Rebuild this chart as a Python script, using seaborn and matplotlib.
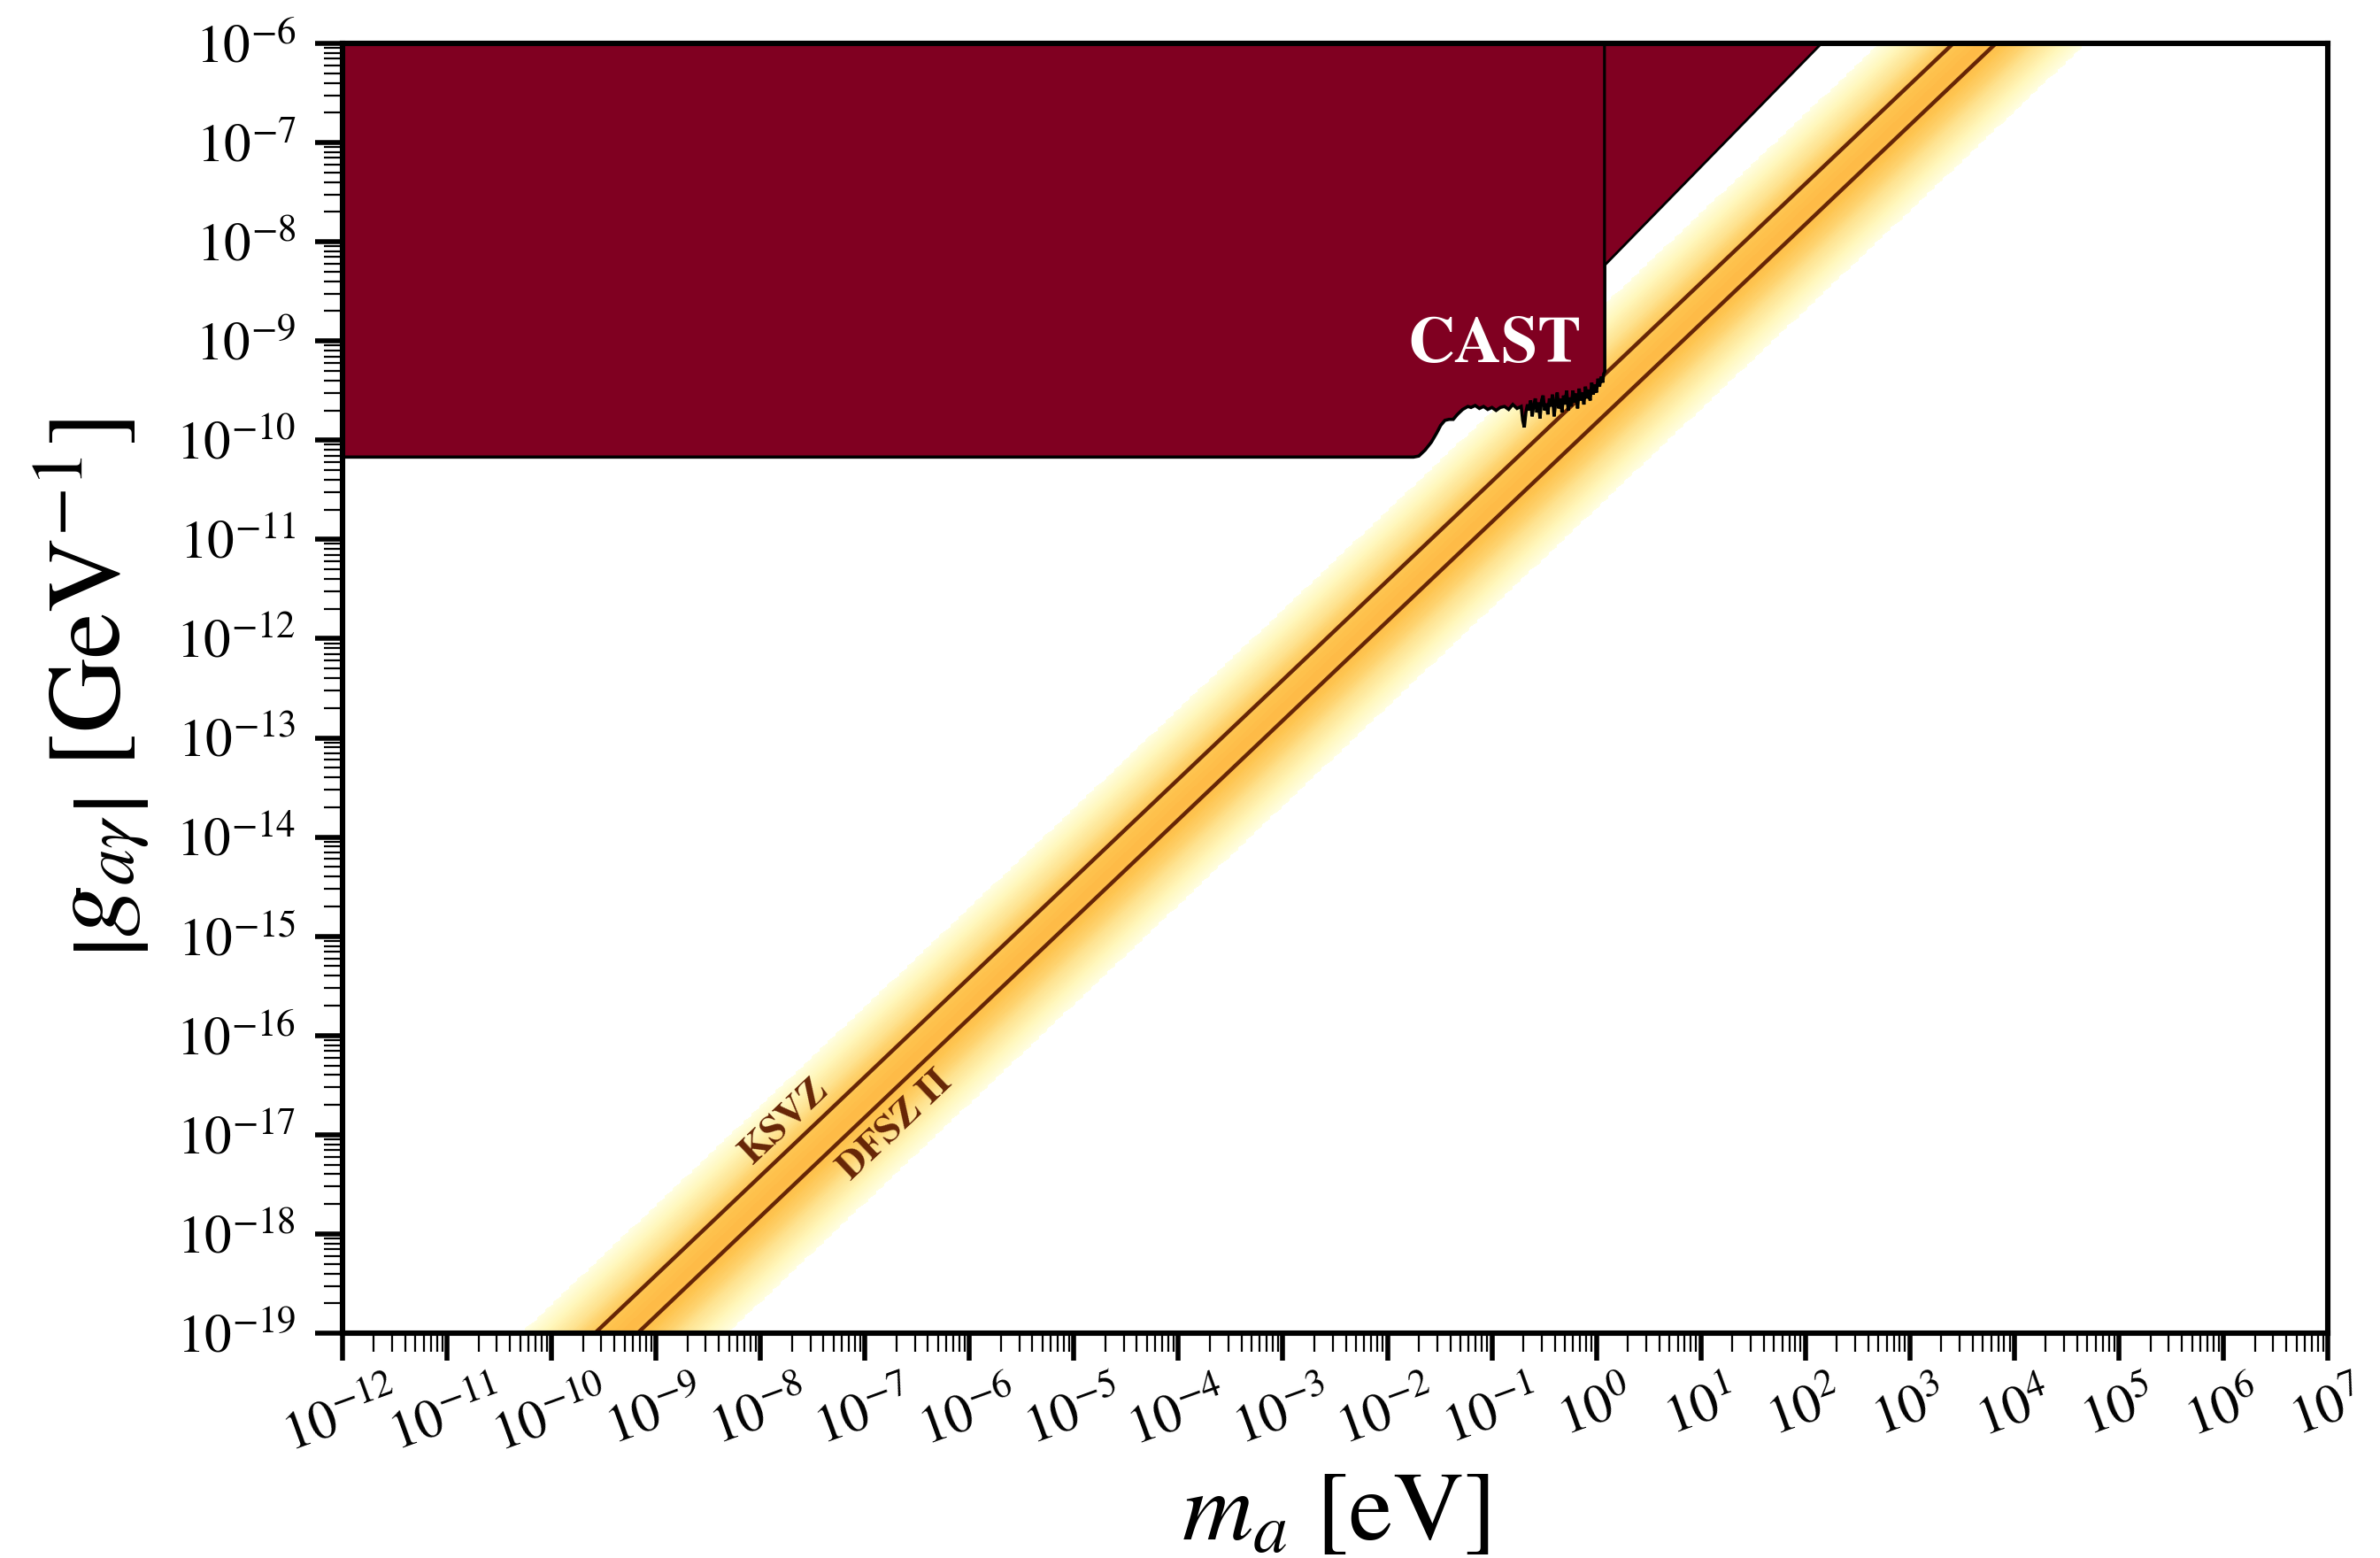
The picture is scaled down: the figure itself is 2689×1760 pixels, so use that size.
import numpy as np
import pandas as pd
import matplotlib
matplotlib.use("Agg")
import matplotlib.pyplot as plt
from matplotlib.ticker import LogLocator, LogFormatterSciNotation, NullFormatter
import seaborn as sns

# ---------------- data ----------------
# axis extent
mass_limits = [1e-12, 1e7]          # eV
coupling_limits = [1e-19, 1e-6]     # GeV^-1

# QCD axion benchmark models: g = coeff * (m / eV)
model_names = ["KSVZ", "DFSZ II"]
model_coeff = [3.84e-10, 1.50e-10]

# QCD axion band: centre coefficient and colour profile across the band
band_center_coeff = 2.0e-10
band_offset_dex = [-1.0, -0.8, -0.6, -0.4, -0.2, 0.0, 0.2, 0.4, 0.6, 0.8, 1.0]
band_level = [0.0, 0.11, 0.22, 0.315, 0.38, 0.40, 0.38, 0.315, 0.22, 0.11, 0.0]

# CAST lower boundary (log10 m [eV], log10 g [GeV^-1])
cast_log_mass = [-13.0, -1.75, -1.70, -1.64, -1.58, -1.53, -1.49, -1.45, -1.41,
                 -1.37, -1.33, -1.28, -1.23,
                 -1.20, -1.16, -1.12, -1.08, -1.04, -1.00, -0.96, -0.92, -0.88,
                 -0.84, -0.80, -0.76,
                 -0.72, -0.705, -0.69, -0.675, -0.66, -0.645, -0.63, -0.615, -0.60,
                 -0.585, -0.57, -0.555, -0.54, -0.525, -0.51, -0.495, -0.48, -0.465,
                 -0.45, -0.435, -0.42, -0.405, -0.39, -0.375, -0.36, -0.345, -0.33,
                 -0.315, -0.30, -0.285, -0.27, -0.255, -0.24, -0.225, -0.21, -0.195,
                 -0.18, -0.165, -0.15, -0.135, -0.12, -0.105, -0.09, -0.075, -0.06,
                 -0.045, -0.03, -0.015, 0.00, 0.015, 0.03, 0.045, 0.06, 0.07, 0.08]
cast_log_coupling = [-10.17, -10.17, -10.16, -10.10, -10.02, -9.93, -9.85, -9.80, -9.79,
                     -9.79, -9.74, -9.69, -9.66,
                     -9.67, -9.65, -9.68, -9.66, -9.69, -9.67, -9.70, -9.67, -9.66,
                     -9.69, -9.64, -9.68,
                     -9.66, -9.80, -9.87, -9.72, -9.64, -9.70, -9.60, -9.76, -9.65,
                     -9.58, -9.72, -9.62, -9.78, -9.60, -9.55, -9.70, -9.63, -9.74,
                     -9.58, -9.66, -9.54, -9.76, -9.62, -9.52, -9.68, -9.58, -9.72,
                     -9.55, -9.64, -9.50, -9.70, -9.57, -9.66, -9.50, -9.62, -9.53,
                     -9.68, -9.48, -9.60, -9.52, -9.64, -9.46, -9.58, -9.49, -9.60,
                     -9.42, -9.54, -9.44, -9.52, -9.38, -9.46, -9.36, -9.42, -9.33, -9.31]

# high-mass helioscope edge (m [eV], g [GeV^-1])
cast_hm_mass = [1.2, 143.0]
cast_hm_coupling = [5.8e-9, 1.0e-6]

# colours
cast_color = (0.5, 0.0, 0.13)
model_color = "#662506"

# ---------------- style ----------------
sns.set_theme(style="ticks")
plt.rcParams.update({
    "font.family": ["STIXGeneral", "DejaVu Serif"],
    "mathtext.fontset": "stix",
    "text.color": "black",
    "axes.labelcolor": "black",
    "axes.linewidth": 2.2,
    "xtick.major.width": 2.0, "ytick.major.width": 2.0,
    "xtick.minor.width": 0.8, "ytick.minor.width": 0.8,
    "xtick.major.size": 11, "ytick.major.size": 11,
    "xtick.minor.size": 7.5, "ytick.minor.size": 7.5,
    "xtick.direction": "out", "ytick.direction": "out",
    "xtick.color": "black", "ytick.color": "black",
    "xtick.labelcolor": "black", "ytick.labelcolor": "black",
    "axes.edgecolor": "black",
})

fig = plt.figure(figsize=(13.445, 8.8), dpi=200)
ax = fig.add_axes([0.1439, 0.1443, 0.9781 - 0.1439, 0.9722 - 0.1443])
ax.set_xscale("log")
ax.set_yscale("log")
ax.set_xlim(*mass_limits)
ax.set_ylim(*coupling_limits)

# ---------------- QCD axion band ----------------
m_grid = np.logspace(np.log10(mass_limits[0]), np.log10(mass_limits[1]), 500)
g_grid = np.logspace(np.log10(coupling_limits[0]), np.log10(coupling_limits[1]), 500)
M, G = np.meshgrid(m_grid, g_grid)
offset = np.log10(G) - np.log10(band_center_coeff * M)
level = np.interp(offset, band_offset_dex, band_level, left=-1.0, right=-1.0)
ax.contourf(M, G, level, levels=np.linspace(0.002, max(band_level) + 0.002, 60),
            cmap="YlOrBr", vmin=0.0, vmax=1.0, zorder=0)

# ---------------- model lines ----------------
line_mass = np.array(mass_limits)
rows = []
for name, c in zip(model_names, model_coeff):
    for mm in line_mass:
        rows.append({"model": name, "mass": mm, "coupling": c * mm})
lines_df = pd.DataFrame(rows)
sns.lineplot(data=lines_df, x="mass", y="coupling", units="model", estimator=None,
             color=model_color, lw=1.6, ax=ax, zorder=1, legend=False)

# ---------------- CAST ----------------
cm_ = 10 ** np.array(cast_log_mass)
cg_ = 10 ** np.array(cast_log_coupling)
cast_x = np.concatenate([cm_, [cm_[-1], cm_[0]]])
cast_y = np.concatenate([cg_, [1e-5, 1e-5]])
ax.fill(cast_x, cast_y, facecolor=cast_color, edgecolor="black", lw=1.3, zorder=2)

hm_x = [cast_hm_mass[0], cast_hm_mass[1], cast_hm_mass[0]]
hm_y = [cast_hm_coupling[0], cast_hm_coupling[1], cast_hm_coupling[1]]
ax.fill(hm_x, hm_y, facecolor=cast_color, edgecolor="black", lw=1.0, zorder=2)

ax.text(0.105, 8.7e-10, "CAST", color="white", fontsize=26.5, fontweight="bold",
        ha="center", va="center", zorder=5)

# ---------------- labels on lines ----------------
p0 = ax.transData.transform((1e-10, model_coeff[0] * 1e-10))
p1 = ax.transData.transform((1e0, model_coeff[0] * 1e0))
angle = np.degrees(np.arctan2(p1[1] - p0[1], p1[0] - p0[0]))
ax.text(1.7e-8, 1.35e-17, "KSVZ", color=model_color, fontsize=16, fontweight="bold",
        rotation=angle, ha="center", va="center", zorder=4)
ax.text(1.97e-7, 1.23e-17, "DFSZ II", color=model_color, fontsize=16, fontweight="bold",
        rotation=angle, ha="center", va="center", zorder=4)

# ---------------- axes ----------------
ax.xaxis.set_major_locator(LogLocator(base=10, numticks=40))
ax.xaxis.set_minor_locator(LogLocator(base=10, subs=np.arange(2, 10), numticks=400))
ax.yaxis.set_major_locator(LogLocator(base=10, numticks=40))
ax.yaxis.set_minor_locator(LogLocator(base=10, subs=np.arange(2, 10), numticks=400))
ax.xaxis.set_major_formatter(LogFormatterSciNotation())
ax.yaxis.set_major_formatter(LogFormatterSciNotation())
ax.xaxis.set_minor_formatter(NullFormatter())
ax.yaxis.set_minor_formatter(NullFormatter())
ax.tick_params(axis="x", which="major", labelsize=22, labelrotation=20, pad=6)
ax.tick_params(axis="y", which="major", labelsize=22, pad=8)
ax.tick_params(which="both", top=False, right=False)
for s in ax.spines.values():
    s.set_visible(True)
    s.set_linewidth(2.2)
    s.set_zorder(10)

ax.set_xlabel(r"$m_a$ [eV]", fontsize=40, labelpad=4)
ax.set_ylabel(r"$\left|g_{a\gamma}\right|$ [GeV$^{-1}$]", fontsize=42, labelpad=10)

fig.savefig("out.png", dpi=200)
